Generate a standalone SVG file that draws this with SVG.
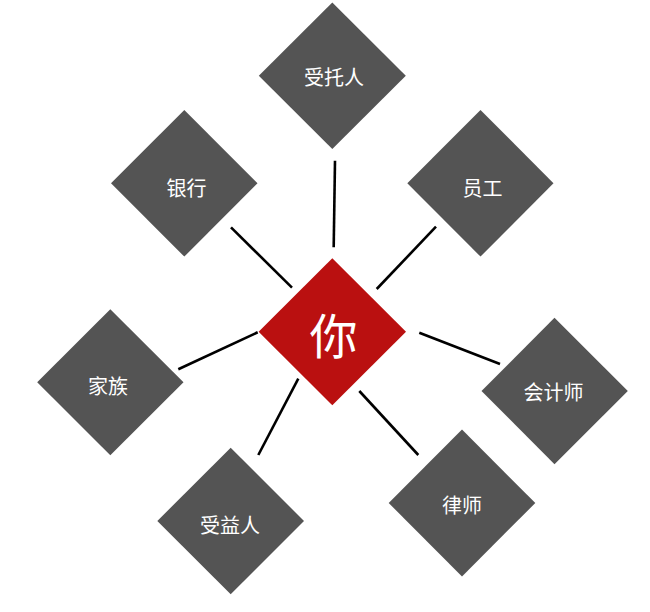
<svg xmlns="http://www.w3.org/2000/svg" width="650" height="612" viewBox="0 0 650 612">
<style>
.n{fill:#545454}
.c{fill:#BA1010}
.t{fill:#ffffff;font-family:"Noto Sans CJK SC","Noto Sans",sans-serif;font-size:20px;text-anchor:middle;dominant-baseline:central}
.tc{font-size:48px}
.e{stroke:#000000;stroke-width:2.6;fill:none}
</style>
<rect width="650" height="612" fill="#ffffff"/>
<g id="connectors">
<line class="e" x1="335" y1="160.7" x2="333.7" y2="247.3"/>
<line class="e" x1="231" y1="227.3" x2="292" y2="287.7"/>
<line class="e" x1="436" y1="226.7" x2="376.7" y2="289"/>
<line class="e" x1="257.7" y1="332.3" x2="178.3" y2="369.3"/>
<line class="e" x1="419.3" y1="332.7" x2="500" y2="364"/>
<line class="e" x1="298.3" y1="378.7" x2="258.3" y2="455"/>
<line class="e" x1="359.3" y1="391" x2="418.3" y2="455"/>
</g>
<g id="node-you">
<polygon class="c" points="332.3,258.3 406,331.8 332.3,405.3 258.6,331.8"/>
<text class="t tc" x="333.5" y="333">你</text>
</g>
<g id="node-trustee">
<polygon class="n" points="332.3,2.5 405.8,75.8 332.3,149 258.8,75.8"/>
<text class="t" x="334" y="76">受托人</text>
</g>
<g id="node-bank">
<polygon class="n" points="184.3,110 257.5,183.3 184.3,256.6 111,183.3"/>
<text class="t" x="186.5" y="187">银行</text>
</g>
<g id="node-staff">
<polygon class="n" points="480.5,110 553.5,183.3 480.5,256.6 407.3,183.3"/>
<text class="t" x="482.5" y="187">员工</text>
</g>
<g id="node-family">
<polygon class="n" points="110.3,309.2 183.5,382.2 110.3,455.2 37.2,382.2"/>
<text class="t" x="108" y="385">家族</text>
</g>
<g id="node-accountant">
<polygon class="n" points="554.5,317.7 627.8,391 554.5,464.3 481.5,391"/>
<text class="t" x="553.5" y="391">会计师</text>
</g>
<g id="node-beneficiary">
<polygon class="n" points="230.7,447.7 304,521 230.7,594.3 157.3,521"/>
<text class="t" x="230" y="524">受益人</text>
</g>
<g id="node-lawyer">
<polygon class="n" points="462,429.5 535.3,503 462,576.5 388.7,503"/>
<text class="t" x="462" y="504.5">律师</text>
</g>
</svg>
